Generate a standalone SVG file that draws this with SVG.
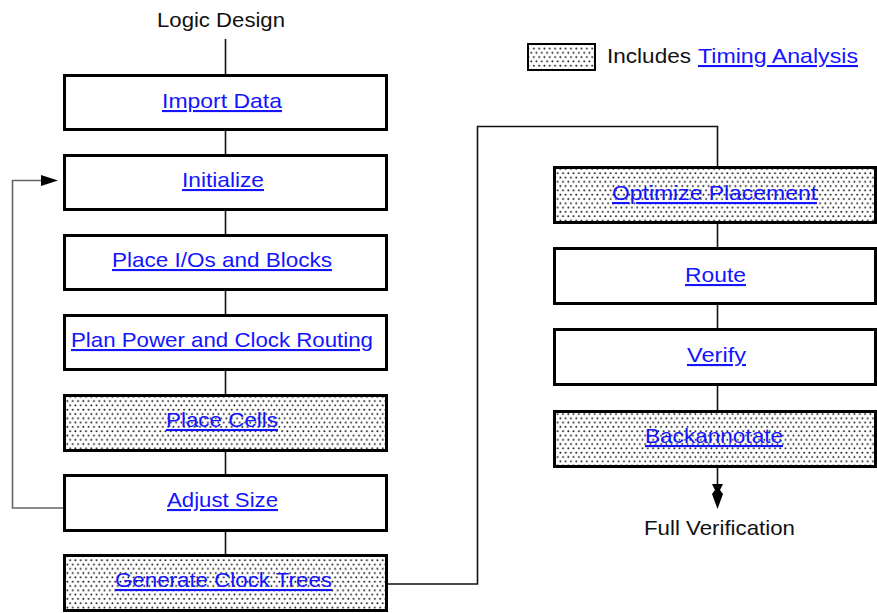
<svg xmlns="http://www.w3.org/2000/svg" width="877" height="613" viewBox="0 0 877 613">
<style>
text{font-family:"Liberation Sans",Arial,sans-serif;font-size:21px}
.lbl{fill:#111}
.lnk{fill:#1414ff;text-decoration:underline}
.box{fill:#fff;stroke:#000;stroke-width:3}
.tim{fill:url(#dots);stroke:#000;stroke-width:3}
.con{fill:none;stroke:#111;stroke-width:1.6}
.fb{fill:none;stroke:#666;stroke-width:1.6}
</style>
<defs>
<pattern id="dots" patternUnits="userSpaceOnUse" width="5.3" height="8.6">
<rect width="5.3" height="8.6" fill="#fff"/>
<circle cx="1.2" cy="1.2" r="0.95" fill="#111"/>
<circle cx="3.85" cy="5.5" r="0.95" fill="#111"/>
</pattern>
</defs>
<g id="connectors">
<line class="con" x1="225.5" y1="39" x2="225.5" y2="74"/>
<line class="con" x1="225.5" y1="131" x2="225.5" y2="154"/>
<line class="con" x1="225.5" y1="211" x2="225.5" y2="234"/>
<line class="con" x1="225.5" y1="291" x2="225.5" y2="314"/>
<line class="con" x1="225.5" y1="371" x2="225.5" y2="394"/>
<line class="con" x1="225.5" y1="451" x2="225.5" y2="474"/>
<line class="con" x1="225.5" y1="531" x2="225.5" y2="554"/>
<polyline class="fb" points="63,508 12.5,508 12.5,180.5 45,180.5"/>
<polygon points="41,175 58,180.5 41,186" fill="#000"/>
<polyline class="con" points="388,584 477.5,584 477.5,126.5 717.5,126.5 717.5,166"/>
<line class="con" x1="717.5" y1="224" x2="717.5" y2="247"/>
<line class="con" x1="717.5" y1="305" x2="717.5" y2="328"/>
<line class="con" x1="717.5" y1="386" x2="717.5" y2="410"/>
<line class="con" x1="717.5" y1="468" x2="717.5" y2="490"/>
<polygon points="712,484 723,484 720,490 723,494 717.5,509 712,494 715,490" fill="#000"/>
</g>
<g id="logic-design"><text class="lbl" x="221" y="27" text-anchor="middle" textLength="128" lengthAdjust="spacingAndGlyphs">Logic Design</text></g>
<g id="legend">
<rect x="528" y="44" width="67" height="26" fill="url(#dots)" stroke="#000" stroke-width="2"/>
<text class="lbl" x="607" y="63" textLength="84" lengthAdjust="spacingAndGlyphs">Includes</text>
<text class="lnk" x="698" y="63" textLength="160" lengthAdjust="spacingAndGlyphs">Timing Analysis</text>
</g>
<g id="import-data"><rect class="box" x="64.5" y="75.5" width="322" height="54"/><text class="lnk" x="222" y="108" text-anchor="middle" textLength="120" lengthAdjust="spacingAndGlyphs">Import  Data</text></g>
<g id="initialize"><rect class="box" x="64.5" y="155.5" width="322" height="54"/><text class="lnk" x="223" y="187" text-anchor="middle" textLength="82" lengthAdjust="spacingAndGlyphs">Initialize</text></g>
<g id="place-ios"><rect class="box" x="64.5" y="235.5" width="322" height="54"/><text class="lnk" x="222" y="267" text-anchor="middle" textLength="220" lengthAdjust="spacingAndGlyphs">Place I/Os and Blocks</text></g>
<g id="plan-power"><rect class="box" x="64.5" y="315.5" width="322" height="54"/><text class="lnk" x="222" y="347" text-anchor="middle" textLength="302" lengthAdjust="spacingAndGlyphs">Plan Power and Clock Routing</text></g>
<g id="place-cells"><rect class="tim" x="64.5" y="395.5" width="322" height="55"/><text class="lnk" x="222" y="427" text-anchor="middle" textLength="112" lengthAdjust="spacingAndGlyphs">Place Cells</text></g>
<g id="adjust-size"><rect class="box" x="64.5" y="475.5" width="322" height="55"/><text class="lnk" x="222.5" y="507" text-anchor="middle" textLength="111" lengthAdjust="spacingAndGlyphs">Adjust Size</text></g>
<g id="generate-clock-trees"><rect class="tim" x="64.5" y="555.5" width="322" height="55"/><text class="lnk" x="223.5" y="587" text-anchor="middle" textLength="217" lengthAdjust="spacingAndGlyphs">Generate Clock Trees</text></g>
<g id="optimize-placement"><rect class="tim" x="554.5" y="167.5" width="321" height="55"/><text class="lnk" x="714.5" y="200" text-anchor="middle" textLength="205" lengthAdjust="spacingAndGlyphs">Optimize Placement</text></g>
<g id="route"><rect class="box" x="554.5" y="248.5" width="321" height="55"/><text class="lnk" x="715.5" y="282" text-anchor="middle" textLength="61" lengthAdjust="spacingAndGlyphs">Route</text></g>
<g id="verify"><rect class="box" x="554.5" y="329.5" width="321" height="55"/><text class="lnk" x="716.5" y="362" text-anchor="middle" textLength="59" lengthAdjust="spacingAndGlyphs">Verify</text></g>
<g id="backannotate"><rect class="tim" x="554.5" y="411.5" width="321" height="55"/><text class="lnk" x="714" y="443" text-anchor="middle" textLength="138" lengthAdjust="spacingAndGlyphs">Backannotate</text></g>
<g id="full-verification"><text class="lbl" x="719.5" y="535" text-anchor="middle" textLength="151" lengthAdjust="spacingAndGlyphs">Full Verification</text></g>
</svg>
